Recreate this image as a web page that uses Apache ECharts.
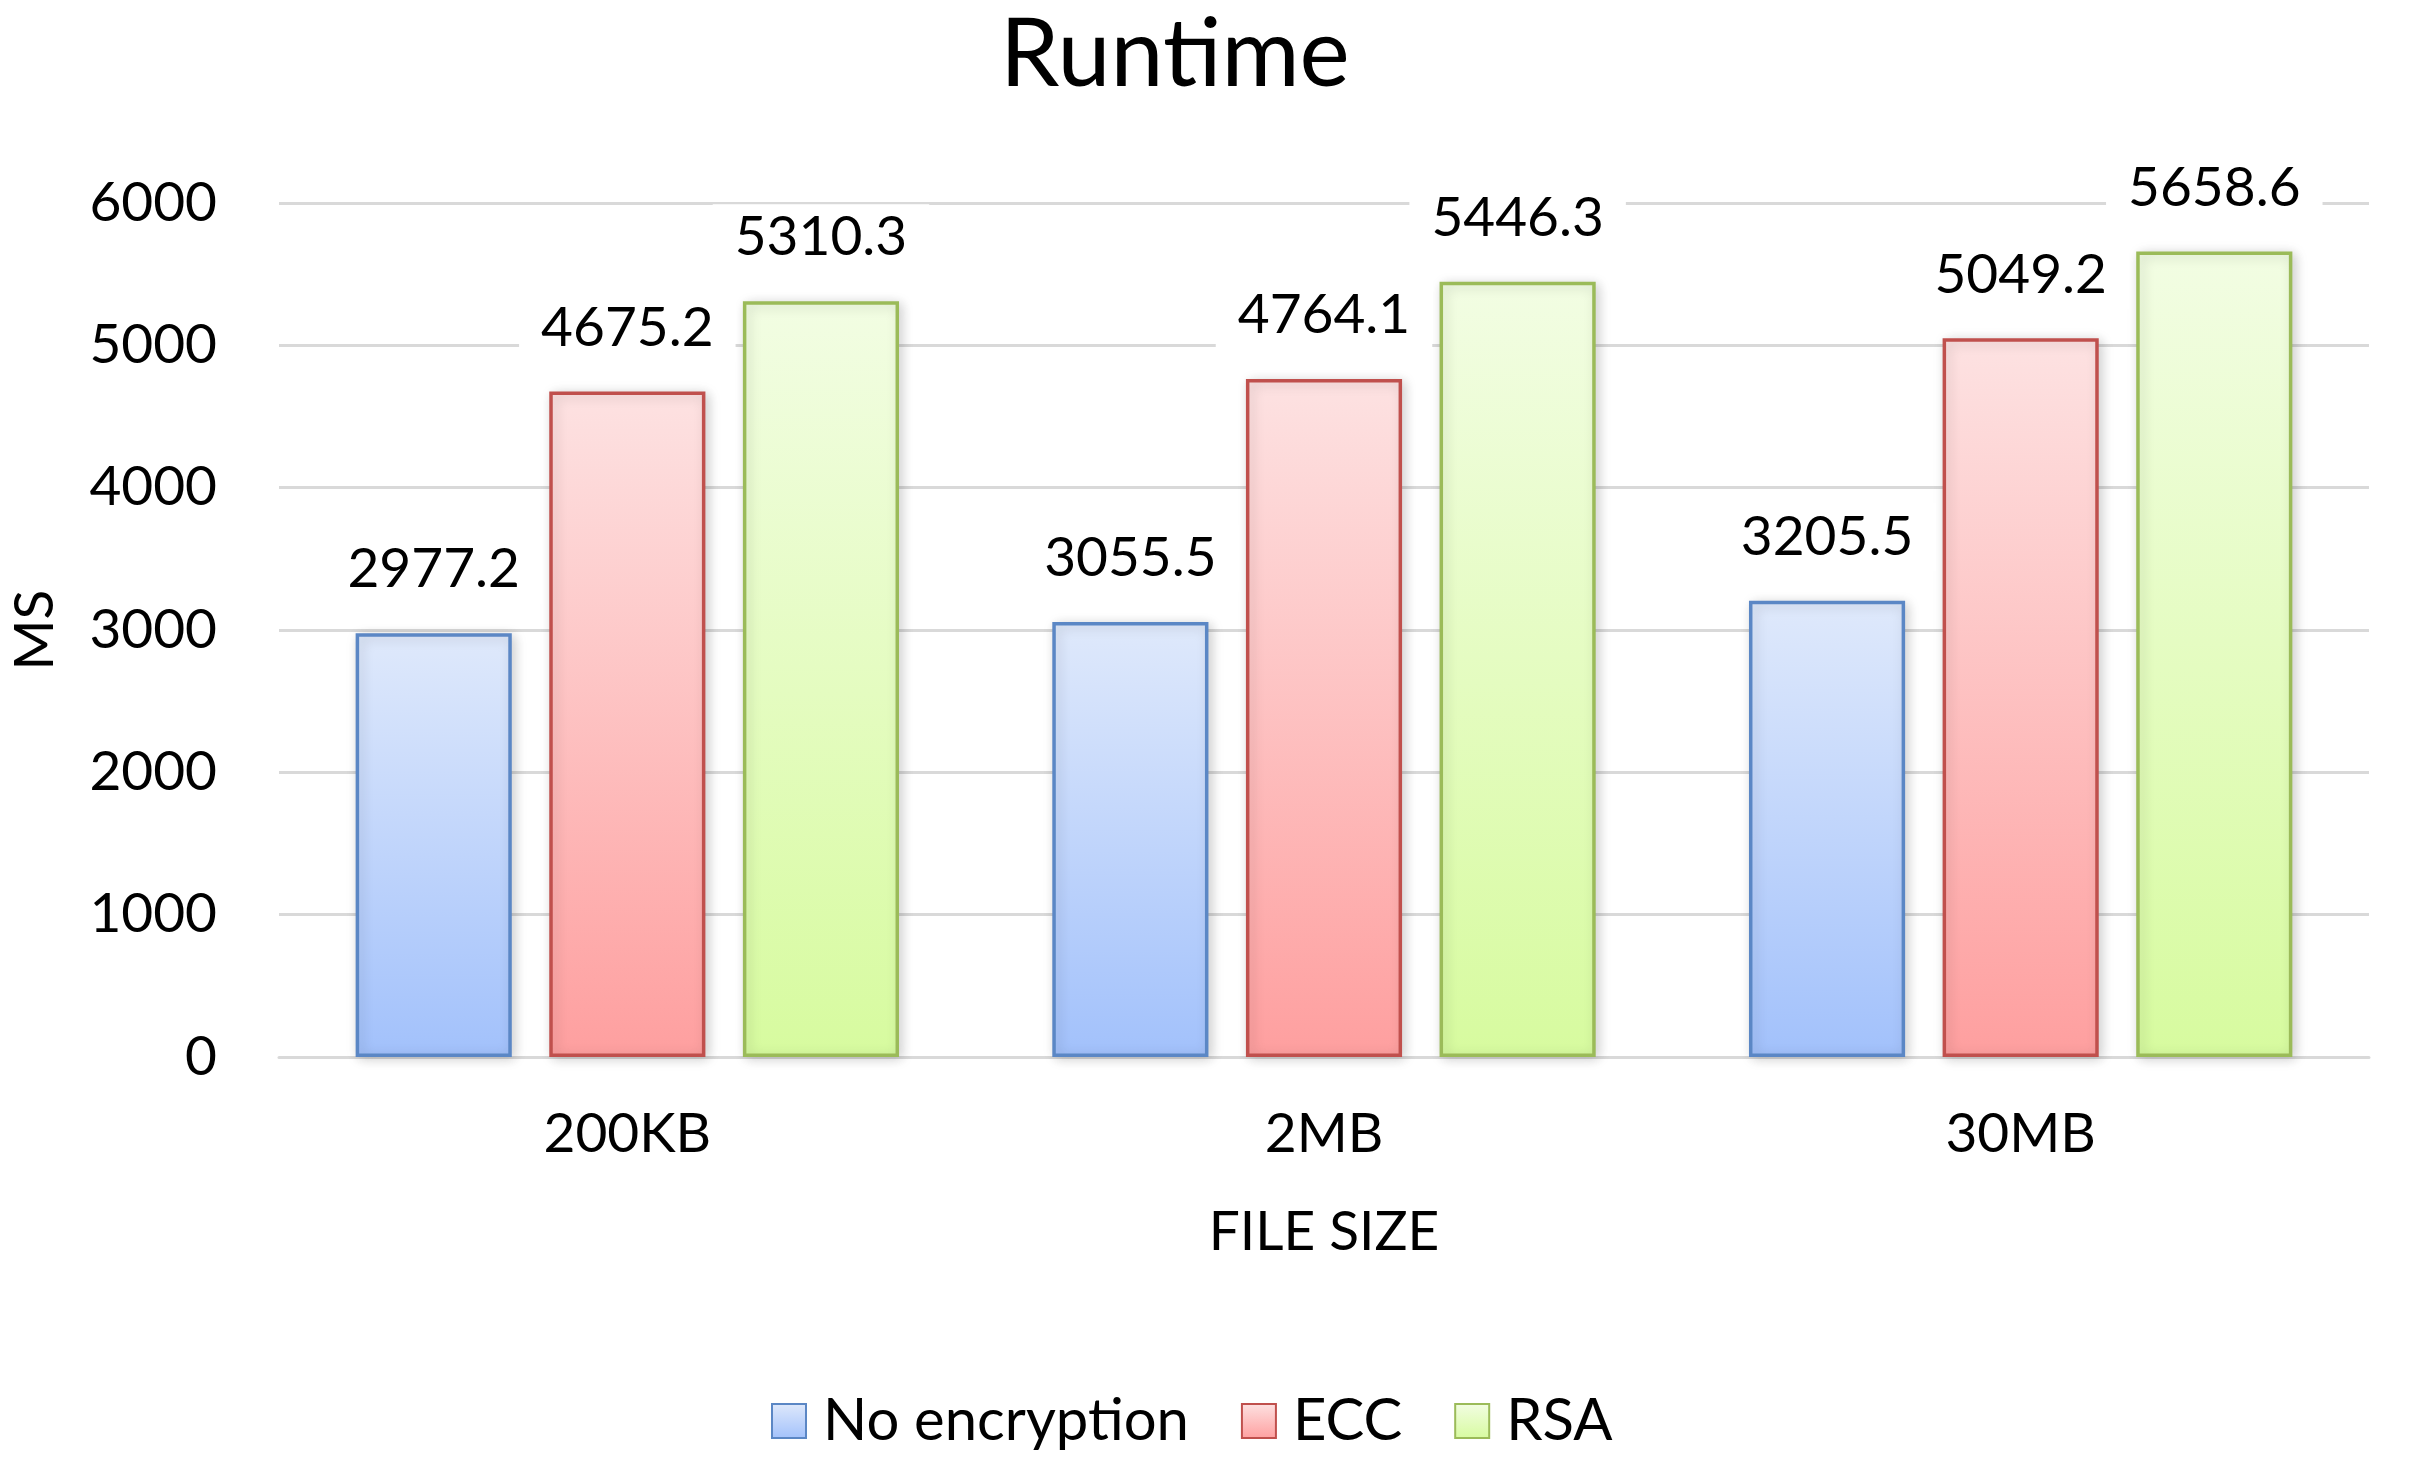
<!DOCTYPE html>
<html>
<head>
<meta charset="utf-8">
<script src="https://cdn.jsdelivr.net/npm/echarts@6/dist/echarts.min.js"></script>
<style>
  html, body { margin: 0; padding: 0; background: #fff; }
  #chart { width: 2412px; height: 1481px; }
</style>
</head>
<body>
<div id="chart"></div>
<script>
  var categories = ['200KB', '2MB', '30MB'];
  var noEncryption = [2977.2, 3055.5, 3205.5];
  var ecc = [4675.2, 4764.1, 5049.2];
  var rsa = [5310.3, 5446.3, 5658.6];

  var FONT = 'Lato';

  function grad(top, bottom) {
    return new echarts.graphic.LinearGradient(0, 0, 0, 1, [
      { offset: 0, color: top },
      { offset: 1, color: bottom }
    ]);
  }

  function makeSeries(name, data, top, bottom, border) {
    return {
      name: name,
      type: 'bar',
      data: data,
      barGap: '24%',
      barCategoryGap: '22%',
      itemStyle: {
        color: grad(top, bottom),
        borderColor: border,
        borderWidth: 3.5,
        shadowBlur: 12,
        shadowColor: 'rgba(0,0,0,0.18)',
        shadowOffsetX: 3,
        shadowOffsetY: 2
      },
      label: {
        show: true,
        position: 'top',
        distance: 30,
        fontFamily: FONT,
        fontSize: 55,
        color: '#000',
        backgroundColor: '#fff',
        padding: [6, 22]
      }
    };
  }

  var myChart = echarts.init(document.getElementById('chart'));
  myChart.setOption({
    animation: false,
    title: {
      text: 'Runtime',
      left: 1000,
      top: 8,
      padding: 0,
      textStyle: { fontFamily: FONT, fontSize: 95, fontWeight: 'normal', color: '#000' }
    },
    legend: {
      bottom: 26,
      left: 766,
      icon: 'rect',
      itemWidth: 34,
      itemHeight: 34,
      itemGap: 52,
      textStyle: { fontFamily: FONT, fontSize: 58, color: '#000', padding: [0, 0, 0, 12] },
      data: ['No encryption', 'ECC', 'RSA']
    },
    grid: {
      left: 277,
      right: 43,
      top: 203,
      bottom: 424,
      containLabel: false
    },
    xAxis: {
      type: 'category',
      data: categories,
      name: 'FILE SIZE',
      nameLocation: 'middle',
      nameGap: 148,
      nameTextStyle: { fontFamily: FONT, fontSize: 55, color: '#000' },
      axisLine: { lineStyle: { color: '#d9d9d9', width: 3 } },
      axisTick: { show: false },
      axisLabel: { fontFamily: FONT, fontSize: 55, color: '#000', margin: 50 }
    },
    yAxis: {
      type: 'value',
      min: 0,
      max: 6000,
      interval: 1000,
      name: 'MS',
      nameLocation: 'middle',
      nameGap: 216,
      nameTextStyle: { fontFamily: FONT, fontSize: 55, color: '#000' },
      axisLine: { show: false },
      axisTick: { show: false },
      axisLabel: {
        fontFamily: FONT, fontSize: 55, color: '#000', margin: 62,
        formatter: function (v) { return String(v); }
      },
      splitLine: { lineStyle: { color: '#d9d9d9', width: 3 } }
    },
    series: [
      makeSeries('No encryption', noEncryption, '#dfe9fb', '#a2c1fb', '#5b87c5'),
      makeSeries('ECC', ecc, '#fde2e2', '#fe9f9f', '#c0504d'),
      makeSeries('RSA', rsa, '#f2fde3', '#d7fb9f', '#9bbb59')
    ]
  });
</script>
</body>
</html>
